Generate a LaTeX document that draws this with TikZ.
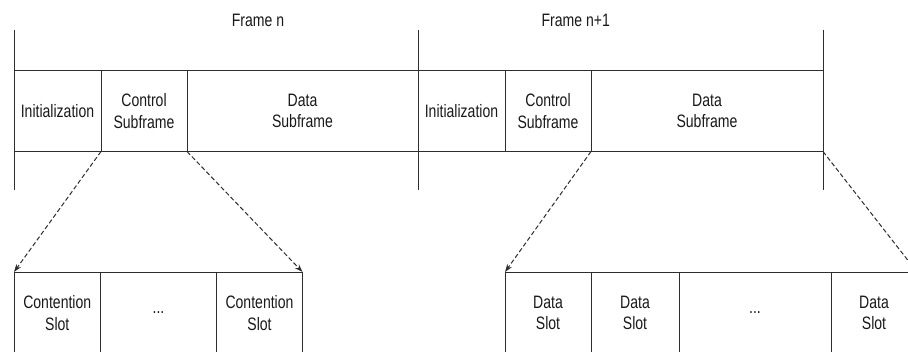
\documentclass[tikz,border=0pt]{standalone}
\usepackage{fontspec}
\setmainfont{Liberation Sans}[FakeStretch=0.78]
\usetikzlibrary{arrows.meta}
\definecolor{linec}{RGB}{45,45,45}
\definecolor{textc}{RGB}{25,25,25}
\begin{document}
\begin{tikzpicture}[x=1pt,y=-1pt,
  cell/.style={draw=linec, line width=0.9pt, inner sep=0pt, outer sep=0pt,
    minimum height=81.5pt, align=center, text=textc,
    font=\fontsize{18}{21.7}\selectfont},
  slot/.style={cell, minimum height=82pt},
  lbl/.style={text=textc, font=\fontsize{18}{21.7}\selectfont, inner sep=0pt},
  zoomarrow/.style={draw=linec, line width=1pt, dash pattern=on 4.5pt off 2.5pt,
    -{Stealth[length=8pt,width=5.5pt]}},
  bound/.style={draw=linec, line width=0.9pt}]
\useasboundingbox (0,0) rectangle (908,352);
\clip (0,0) rectangle (908,352);

% frame boundaries
\coordinate (b0t) at (14,30);  \coordinate (b0b) at (14,190);
\coordinate (b1t) at (418,30); \coordinate (b1b) at (418,190);
\coordinate (b2t) at (823,30); \coordinate (b2b) at (823,190);
\draw[bound] (b0t) -- (b0b);
\draw[bound] (b1t) -- (b1b);
\draw[bound] (b2t) -- (b2b);

\node[lbl, anchor=base] (fn)  at (258,27) {Frame n};
\node[lbl, anchor=base] (fn1) at (575.7,27) {Frame n+1};

% frame cells
\node[cell, minimum width=87pt]  (i1) at (57.5,110.75)  {Initialization};
\node[cell, minimum width=86pt]  (c1) at (144,110.75)   {Control\\Subframe};
\node[cell, minimum width=231pt] (d1) at (302.5,110.75) {Data\\Subframe};
\node[cell, minimum width=87pt]  (i2) at (461.5,110.75) {Initialization};
\node[cell, minimum width=86pt]  (c2) at (548,110.75)   {Control\\Subframe};
\node[cell, minimum width=232pt] (d2) at (707,110.75)   {Data\\Subframe};

% contention slots
\node[slot, minimum width=86.5pt] (cs1) at (57.25,313) {Contention\\Slot};
\node[slot, minimum width=116pt]  (cd)  at (158.5,313) {...};
\node[slot, minimum width=86pt]   (cs2) at (259.5,313) {Contention\\Slot};

% data slots
\node[slot, minimum width=86pt]  (ds1) at (548,313) {Data\\Slot};
\node[slot, minimum width=88pt]  (ds2) at (635,313) {Data\\Slot};
\node[slot, minimum width=152pt] (dd)  at (755,313) {...};
\node[slot, minimum width=86pt]  (ds3) at (874,313) {Data\\Slot};

% zoom arrows
\draw[zoomarrow] (c1.south west) -- (cs1.north west);
\draw[zoomarrow] (c1.south east) -- (cs2.north east);
\draw[zoomarrow] (d2.south west) -- (ds1.north west);
\draw[zoomarrow] (d2.south east) -- (ds3.north east);
\end{tikzpicture}
\end{document}
